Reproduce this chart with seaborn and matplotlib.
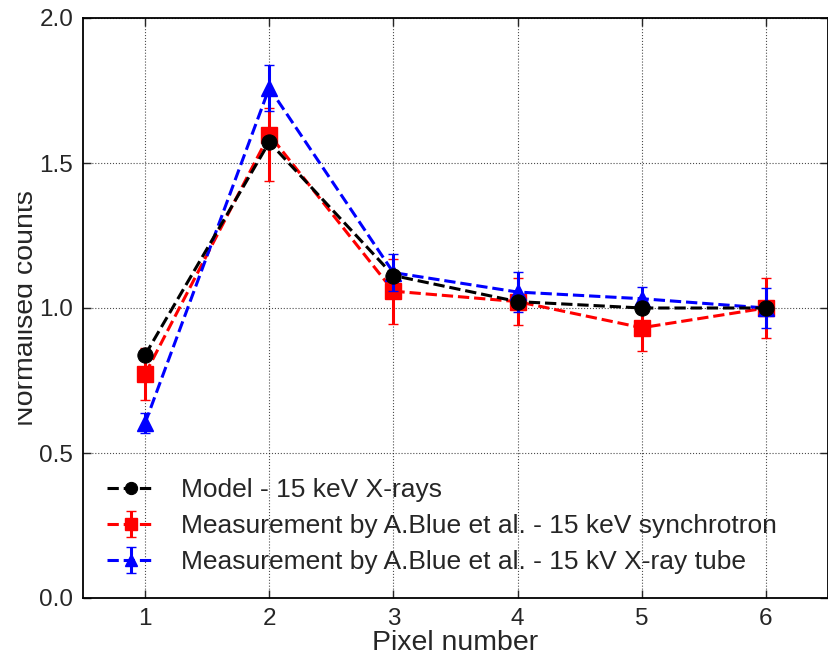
import numpy as np
import pandas as pd
import matplotlib
matplotlib.use("Agg")
import matplotlib.pyplot as plt
from matplotlib.transforms import Bbox, TransformedBbox
import seaborn as sns

# values
pixels = [1, 2, 3, 4, 5, 6]
model = [0.838, 1.572, 1.112, 1.022, 1.000, 1.000]
synchro = [0.772, 1.598, 1.058, 1.022, 0.932, 1.000]
synchro_lo = [0.090, 0.160, 0.112, 0.080, 0.080, 0.103]
synchro_hi = [0.090, 0.090, 0.112, 0.080, 0.080, 0.103]
tube = [0.603, 1.759, 1.122, 1.055, 1.032, 1.000]
tube_err = [0.034, 0.080, 0.064, 0.069, 0.040, 0.069]

labels = ["Model - 15 keV X-rays",
          "Measurement by A.Blue et al. - 15 keV synchrotron",
          "Measurement by A.Blue et al. - 15 kV X-ray tube"]

sns.set_style("ticks")
plt.rcParams['font.family'] = ['Liberation Sans', 'DejaVu Sans']

fig = plt.figure(figsize=(8.29, 6.62), dpi=100)
ax = fig.add_axes([83/829, 64/662, 745/829, 580/662])

df = pd.DataFrame({"pixel": pixels, "counts": model})
sns.lineplot(data=df, x="pixel", y="counts", ax=ax, color="black", lw=2.2,
             linestyle="--", marker="o", markersize=11, markeredgecolor="black",
             label=labels[0], zorder=5)
ax.errorbar(pixels, synchro, yerr=[synchro_lo, synchro_hi], fmt="--s", color="red",
            lw=2.2, ms=11, elinewidth=2.2, capsize=3.5, capthick=1.0, label=labels[1], zorder=3)
ax.errorbar(pixels, tube, yerr=tube_err, fmt="--^", color="blue",
            lw=2.2, ms=11, elinewidth=2.2, capsize=3.5, capthick=1.0, label=labels[2], zorder=4)

ax.set_xlim(0.5, 6.5)
ax.set_ylim(0.0, 2.0)
ax.set_xticks(pixels)
ax.set_yticks([0.0, 0.5, 1.0, 1.5, 2.0])
ax.set_yticklabels(["0.0", "0.5", "1.0", "1.5", "2.0"])
ax.grid(True, color="black", linestyle=":", lw=0.8, alpha=0.7)
ax.tick_params(direction="in", top=True, right=True, labelsize=17.5, length=6, width=1, pad=7)
for s in ax.spines.values():
    s.set_linewidth(1.3)
    s.set_color("black")

ax.set_xlabel("Pixel number", fontsize=20.5, labelpad=0)
ylab = ax.set_ylabel("Normalised counts", fontsize=20.5)
ax.yaxis.set_label_coords(-0.059, 0.5)
# the reference cuts the label off at its left side
ylab.set_clip_box(TransformedBbox(Bbox([[18/829, 0], [1, 1]]), fig.transFigure))
ylab.set_clip_on(True)

ax.legend(loc="lower left", frameon=False, fontsize=19, handlelength=1.8,
          borderaxespad=0.5, borderpad=0.4, labelspacing=0.45, handletextpad=1.0,
          markerscale=0.8)

fig.savefig("out.png", dpi=100)
